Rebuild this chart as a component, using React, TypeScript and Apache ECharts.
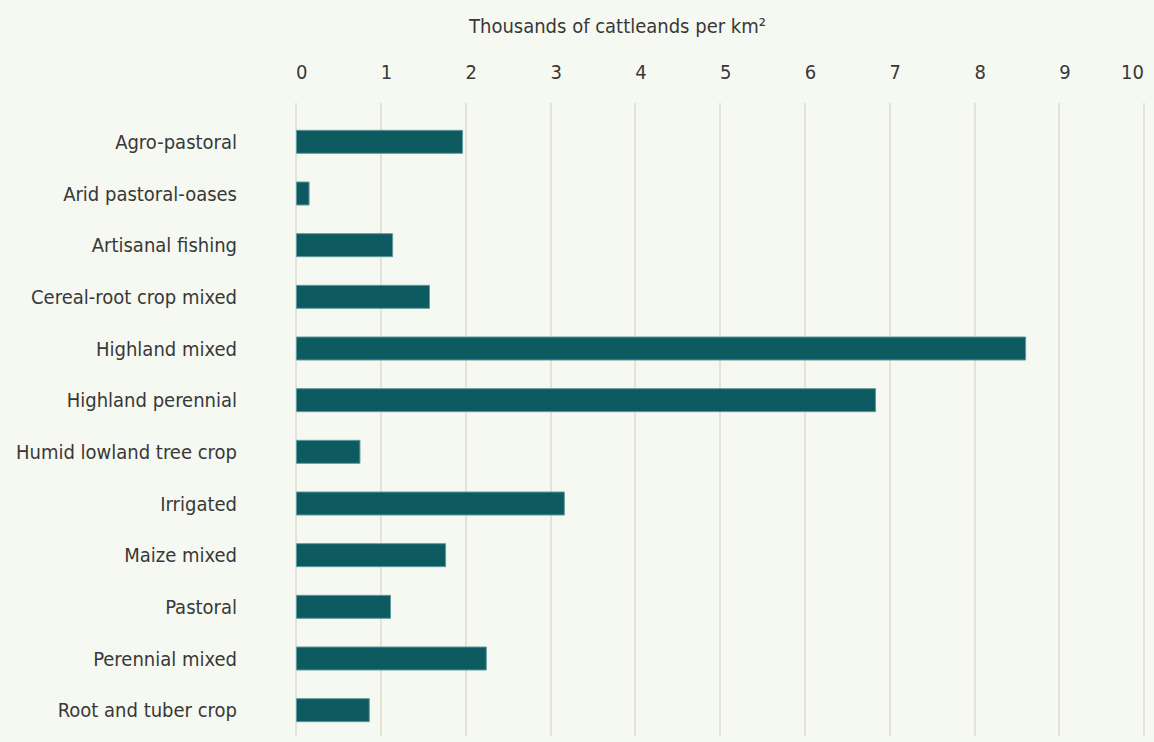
import React, { useEffect, useRef } from "react";
import * as echarts from "echarts";

const categories = [
  "Agro-pastoral",
  "Arid pastoral-oases",
  "Artisanal fishing",
  "Cereal-root crop mixed",
  "Highland mixed",
  "Highland perennial",
  "Humid lowland tree crop",
  "Irrigated",
  "Maize mixed",
  "Pastoral",
  "Perennial mixed",
  "Root and tuber crop",
];
const values = [1.97, 0.16, 1.145, 1.58, 8.61, 6.84, 0.76, 3.17, 1.77, 1.12, 2.25, 0.87];
const axisTitle = "Thousands of cattleands per km²";

const FONT = "'DejaVu Sans Condensed', 'Liberation Sans Narrow', sans-serif";
const TEXT = "#383838";
const GRID = "#e3e3d6";

export default function App() {
  const ref = useRef<HTMLDivElement>(null);
  useEffect(() => {
    if (!ref.current) return;
    const chart = echarts.init(ref.current, null, { renderer: "svg" });
    chart.setOption({
      animation: false,
      backgroundColor: "#f6f8f2",
      textStyle: { fontFamily: FONT },
      graphic: [
        {
          type: "text",
          left: 469,
          top: 16,
          style: { text: axisTitle, font: `20px ${FONT}`, fill: TEXT },
        },
      ],
      grid: {
        left: 296,
        right: 10,
        top: 116,
        bottom: 6,
        containLabel: false,
        outerBoundsMode: "none",
      },
      xAxis: {
        type: "value",
        position: "top",
        min: 0,
        max: 10,
        interval: 1,
        axisLine: { show: false },
        axisTick: { show: true, length: 13, lineStyle: { color: GRID, width: 2 } },
        splitLine: { show: true, lineStyle: { color: GRID, width: 2 } },
        axisLabel: {
          margin: 34,
          align: "left",
          alignMaxLabel: "right",
          color: TEXT,
          fontSize: 20,
          fontFamily: FONT,
        },
      },
      yAxis: {
        type: "category",
        data: categories,
        inverse: true,
        axisLine: { show: false },
        axisTick: { show: false },
        splitLine: { show: false },
        axisLabel: {
          margin: 59,
          color: TEXT,
          fontSize: 20,
          fontFamily: FONT,
        },
      },
      series: [
        {
          type: "bar",
          data: values,
          barWidth: 24,
          itemStyle: { color: "#0d5b61", borderColor: "#5f9a9c", borderWidth: 1 },
        },
      ],
    });
    return () => chart.dispose();
  }, []);
  return (
    <div
      ref={ref}
      style={{ position: "fixed", left: 0, top: 0, width: 1154, height: 742 }}
    />
  );
}
